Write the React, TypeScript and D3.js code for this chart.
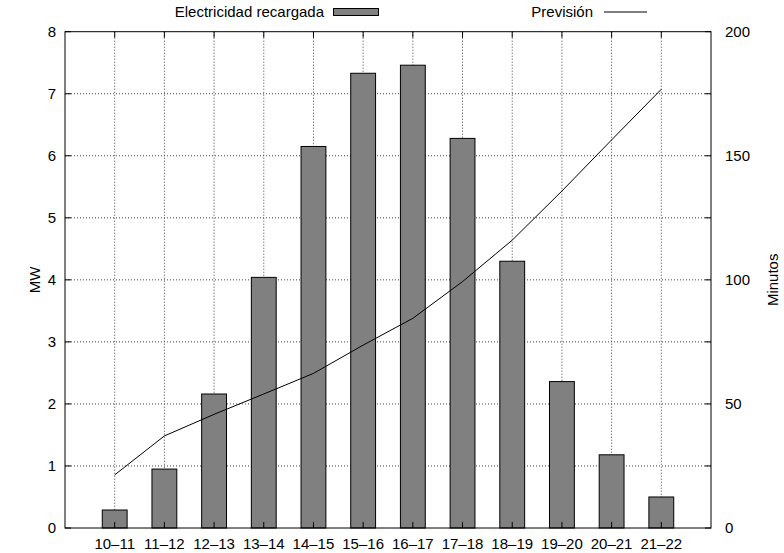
import React from "react";
import * as d3 from "d3";

const categories = ["10–11", "11–12", "12–13", "13–14", "14–15", "15–16", "16–17", "17–18", "18–19", "19–20", "20–21", "21–22"];
const recharged = [0.29, 0.95, 2.16, 4.04, 6.15, 7.33, 7.46, 6.28, 4.30, 2.36, 1.18, 0.50];
const forecast = [21.4, 37.1, 45.8, 54, 62.3, 73.7, 84.5, 99.3, 116, 135.8, 156.4, 176.8];
const leftTicks = [0, 1, 2, 3, 4, 5, 6, 7, 8];
const rightTicks = [0, 50, 100, 150, 200];

const W = 784;
const H = 553;
const plot = { left: 65, right: 711, top: 31.7, bottom: 528 };
const font = "'Liberation Sans', Arial, Helvetica, sans-serif";
const fs = 15;

export default function App() {
  const x = d3.scaleLinear().domain([-1, categories.length]).range([plot.left, plot.right]);
  const y = d3.scaleLinear().domain([0, 8]).range([plot.bottom, plot.top]);
  const y2 = d3.scaleLinear().domain([0, 200]).range([plot.bottom, plot.top]);
  const barW = x(0.5) - x(0);
  const line = d3
    .line<number>()
    .x((_, i) => x(i))
    .y((d) => y2(d));
  const tick = 6;
  const grid = { stroke: "#444", strokeWidth: 1, strokeDasharray: "1,2" };

  return (
    <svg width={W} height={H} style={{ position: "absolute", left: 0, top: 0 }} fontFamily={font}>
      <rect width={W} height={H} fill="#fff" />
      {/* grid */}
      {leftTicks.slice(1, -1).map((t) => (
        <line key={"gy" + t} x1={plot.left} x2={plot.right} y1={y(t)} y2={y(t)} {...grid} />
      ))}
      {categories.map((c, i) => (
        <line key={"gx" + c} x1={x(i)} x2={x(i)} y1={plot.top} y2={plot.bottom} {...grid} />
      ))}
      {/* bars */}
      {recharged.map((v, i) => (
        <rect
          key={"b" + i}
          x={x(i) - barW / 2}
          y={y(v)}
          width={barW}
          height={y(0) - y(v)}
          fill="#808080"
          stroke="#000"
          strokeWidth={1}
        />
      ))}
      {/* forecast line */}
      <path d={line(forecast) || ""} fill="none" stroke="#000" strokeWidth={1} />
      {/* frame */}
      <rect
        x={plot.left}
        y={plot.top}
        width={plot.right - plot.left}
        height={plot.bottom - plot.top}
        fill="none"
        stroke="#000"
        strokeWidth={1}
      />
      {/* ticks */}
      {leftTicks.map((t) => (
        <g key={"lt" + t}>
          <line x1={plot.left} x2={plot.left + tick} y1={y(t)} y2={y(t)} stroke="#000" />
          <line x1={plot.right} x2={plot.right - tick} y1={y(t)} y2={y(t)} stroke="#000" />
          <text x={plot.left - 9} y={y(t)} dy="0.35em" textAnchor="end" fontSize={fs}>
            {t}
          </text>
        </g>
      ))}
      {rightTicks.map((t) => (
        <text key={"rt" + t} x={plot.right + 14} y={y2(t)} dy="0.35em" textAnchor="start" fontSize={fs}>
          {t}
        </text>
      ))}
      {categories.map((c, i) => (
        <g key={"xt" + c}>
          <line x1={x(i)} x2={x(i)} y1={plot.bottom} y2={plot.bottom - tick} stroke="#000" />
          <line x1={x(i)} x2={x(i)} y1={plot.top} y2={plot.top + tick} stroke="#000" />
          <text x={x(i)} y={plot.bottom + 16} dy="0.35em" textAnchor="middle" fontSize={fs}>
            {c}
          </text>
        </g>
      ))}
      {/* axis titles */}
      <text transform={`translate(40,${(plot.top + plot.bottom) / 2}) rotate(-90)`} textAnchor="middle" fontSize={fs}>
        MW
      </text>
      <text transform={`translate(778,${(plot.top + plot.bottom) / 2}) rotate(-90)`} textAnchor="middle" fontSize={fs}>
        Minutos
      </text>
      {/* legend */}
      <text x={324} y={12} dy="0.35em" textAnchor="end" fontSize={fs}>
        Electricidad recargada
      </text>
      <rect x={333.5} y={8.5} width={45} height={7} fill="#808080" stroke="#000" />
      <text x={593} y={12} dy="0.35em" textAnchor="end" fontSize={fs}>
        Previsión
      </text>
      <line x1={604} x2={647} y1={12} y2={12} stroke="#000" />
    </svg>
  );
}
